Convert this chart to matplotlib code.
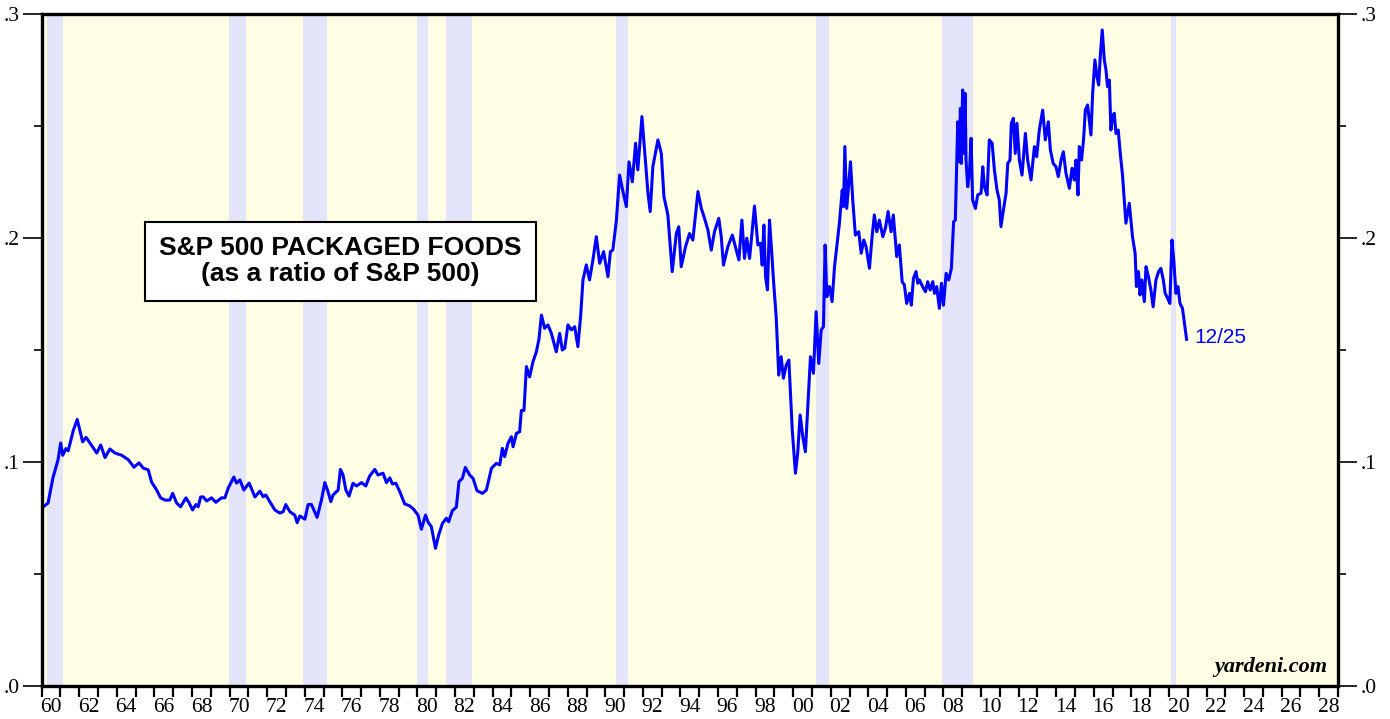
import matplotlib
matplotlib.use("Agg")
import matplotlib.pyplot as plt
from matplotlib.ticker import FixedLocator, NullFormatter, FixedFormatter

# S&P 500 Packaged Foods relative to S&P 500
years = [
    1960.09, 1960.34, 1960.60, 1960.87, 1961.01, 1961.12, 1961.29, 1961.41, 1961.68, 1961.89,
    1962.18, 1962.36, 1962.57, 1962.93, 1963.14, 1963.37, 1963.63, 1963.90, 1964.26, 1964.61,
    1964.91, 1965.18, 1965.40, 1965.67, 1965.85, 1966.12, 1966.33, 1966.56, 1966.82, 1966.97,
    1967.18, 1967.39, 1967.68, 1967.85, 1968.03, 1968.21, 1968.33, 1968.46, 1968.60, 1968.78,
    1969.04, 1969.27, 1969.57, 1969.75, 1969.93, 1970.23, 1970.37, 1970.55, 1970.76, 1971.04,
    1971.35, 1971.61, 1971.79, 1971.93, 1972.14, 1972.41, 1972.68, 1972.85, 1972.99, 1973.21,
    1973.47, 1973.60, 1973.74, 1974.01, 1974.18, 1974.36, 1974.66, 1974.89, 1975.07, 1975.24,
    1975.39, 1975.51, 1975.78, 1975.90, 1976.04, 1976.19, 1976.36, 1976.57, 1976.76, 1977.02,
    1977.25, 1977.46, 1977.73, 1977.90, 1978.17, 1978.35, 1978.53, 1978.67, 1978.85, 1979.06,
    1979.32, 1979.59, 1979.80, 1980.03, 1980.21, 1980.43, 1980.56, 1980.74, 1980.96, 1981.13,
    1981.33, 1981.54, 1981.66, 1981.86, 1982.07, 1982.21, 1982.39, 1982.55, 1982.78, 1982.96,
    1983.17, 1983.46, 1983.67, 1983.94, 1984.20, 1984.38, 1984.52, 1984.64, 1984.82, 1985.00,
    1985.09, 1985.27, 1985.44, 1985.53, 1985.67, 1985.80, 1985.97, 1986.15, 1986.33, 1986.47,
    1986.60, 1986.77, 1986.95, 1987.13, 1987.39, 1987.57, 1987.71, 1987.84, 1988.01, 1988.19,
    1988.37, 1988.54, 1988.69, 1988.81, 1988.99, 1989.16, 1989.34, 1989.52, 1989.70, 1989.91,
    1990.14, 1990.27, 1990.40, 1990.59, 1990.76, 1990.94, 1991.12, 1991.26, 1991.44, 1991.61,
    1991.73, 1991.95, 1992.09, 1992.27, 1992.39, 1992.53, 1992.80, 1992.98, 1993.12, 1993.33,
    1993.56, 1993.78, 1993.91, 1994.04, 1994.27, 1994.48, 1994.66, 1994.93, 1995.11, 1995.28,
    1995.46, 1995.64, 1995.81, 1996.04, 1996.17, 1996.29, 1996.52, 1996.76, 1996.97, 1997.11,
    1997.27, 1997.41, 1997.53, 1997.68, 1997.82, 1997.94, 1998.12, 1998.26, 1998.35, 1998.44,
    1998.53, 1998.63, 1998.74, 1998.86, 1998.95, 1999.10, 1999.23, 1999.36, 1999.48, 1999.63,
    1999.77, 1999.95, 2000.12, 2000.24, 2000.37, 2000.51, 2000.65, 2000.78, 2000.92, 2001.08,
    2001.22, 2001.36, 2001.49, 2001.61, 2001.70, 2001.79, 2001.93, 2002.07, 2002.20, 2002.32,
    2002.46, 2002.61, 2002.68, 2002.75, 2002.85, 2002.96, 2003.05, 2003.17, 2003.31, 2003.49,
    2003.62, 2003.76, 2003.88, 2004.06, 2004.20, 2004.32, 2004.45, 2004.59, 2004.77, 2004.91,
    2005.05, 2005.21, 2005.33, 2005.51, 2005.65, 2005.80, 2005.92, 2006.04, 2006.19, 2006.29,
    2006.40, 2006.54, 2006.63, 2006.72, 2006.89, 2007.04, 2007.16, 2007.29, 2007.43, 2007.52,
    2007.64, 2007.78, 2007.89, 2008.00, 2008.14, 2008.28, 2008.42, 2008.54, 2008.63, 2008.70,
    2008.76, 2008.85, 2008.90, 2008.95, 2009.02, 2009.07, 2009.15, 2009.20, 2009.29, 2009.38,
    2009.47, 2009.55, 2009.70, 2009.82, 2010.00, 2010.09, 2010.18, 2010.32, 2010.44, 2010.59,
    2010.71, 2010.85, 2010.97, 2011.06, 2011.19, 2011.33, 2011.42, 2011.54, 2011.61, 2011.72,
    2011.82, 2011.91, 2012.04, 2012.18, 2012.36, 2012.48, 2012.66, 2012.84, 2012.96, 2013.10,
    2013.28, 2013.42, 2013.58, 2013.69, 2013.84, 2013.99, 2014.11, 2014.26, 2014.38, 2014.52,
    2014.70, 2014.84, 2014.96, 2015.05, 2015.16, 2015.23, 2015.35, 2015.46, 2015.55, 2015.67,
    2015.76, 2015.85, 2015.94, 2016.06, 2016.17, 2016.26, 2016.35, 2016.45, 2016.56, 2016.65,
    2016.73, 2016.83, 2016.91, 2017.00, 2017.09, 2017.18, 2017.30, 2017.41, 2017.53, 2017.71,
    2017.89, 2018.06, 2018.20, 2018.27, 2018.38, 2018.46, 2018.56, 2018.69, 2018.78, 2018.91,
    2019.04, 2019.16, 2019.31, 2019.45, 2019.57, 2019.70, 2019.80, 2019.93, 2020.05, 2020.16,
    2020.27, 2020.37, 2020.48, 2020.59, 2020.72, 2020.94,
]
ratio = [
    0.0800, 0.0817, 0.0930, 0.1010, 0.1085, 0.1030, 0.1060, 0.1050, 0.1140, 0.1190,
    0.1090, 0.1110, 0.1085, 0.1040, 0.1076, 0.1020, 0.1058, 0.1040, 0.1030, 0.1010,
    0.0977, 0.0996, 0.0973, 0.0965, 0.0910, 0.0875, 0.0840, 0.0830, 0.0830, 0.0860,
    0.0817, 0.0800, 0.0840, 0.0817, 0.0786, 0.0810, 0.0800, 0.0844, 0.0844, 0.0826,
    0.0840, 0.0820, 0.0840, 0.0840, 0.0884, 0.0933, 0.0906, 0.0920, 0.0875, 0.0906,
    0.0844, 0.0870, 0.0845, 0.0853, 0.0823, 0.0786, 0.0772, 0.0778, 0.0810, 0.0778,
    0.0763, 0.0729, 0.0759, 0.0745, 0.0810, 0.0810, 0.0753, 0.0830, 0.0908, 0.0868,
    0.0823, 0.0853, 0.0875, 0.0967, 0.0942, 0.0875, 0.0848, 0.0905, 0.0893, 0.0908,
    0.0893, 0.0938, 0.0967, 0.0942, 0.0950, 0.0908, 0.0929, 0.0902, 0.0905, 0.0868,
    0.0813, 0.0804, 0.0789, 0.0763, 0.0700, 0.0763, 0.0733, 0.0711, 0.0615, 0.0674,
    0.0726, 0.0749, 0.0733, 0.0783, 0.0798, 0.0912, 0.0927, 0.0976, 0.0942, 0.0927,
    0.0872, 0.0860, 0.0875, 0.0972, 0.0994, 0.0987, 0.1061, 0.1024, 0.1083, 0.1113,
    0.1068, 0.1128, 0.1135, 0.1230, 0.1230, 0.1426, 0.1380, 0.1448, 0.1492, 0.1550,
    0.1656, 0.1597, 0.1612, 0.1574, 0.1492, 0.1574, 0.1500, 0.1508, 0.1612, 0.1590,
    0.1604, 0.1515, 0.1656, 0.1813, 0.1880, 0.1813, 0.1902, 0.2006, 0.1887, 0.1939,
    0.1827, 0.1939, 0.1946, 0.2080, 0.2281, 0.2207, 0.2140, 0.2340, 0.2251, 0.2423,
    0.2304, 0.2542, 0.2393, 0.2200, 0.2118, 0.2318, 0.2438, 0.2378, 0.2185, 0.2103,
    0.1850, 0.2020, 0.2050, 0.1872, 0.1961, 0.2020, 0.1991, 0.2207, 0.2132, 0.2088,
    0.2036, 0.1946, 0.2028, 0.2088, 0.2006, 0.1879, 0.1961, 0.2013, 0.1946, 0.1902,
    0.2080, 0.1909, 0.1999, 0.1909, 0.2036, 0.2143, 0.1969, 0.1976, 0.1879, 0.2058,
    0.1827, 0.1768, 0.2080, 0.1932, 0.1813, 0.1641, 0.1388, 0.1470, 0.1374, 0.1433,
    0.1455, 0.1143, 0.0950, 0.1039, 0.1210, 0.1113, 0.1046, 0.1247, 0.1470, 0.1396,
    0.1671, 0.1440, 0.1589, 0.1604, 0.1969, 0.1738, 0.1783, 0.1716, 0.1872, 0.1961,
    0.2066, 0.2214, 0.2140, 0.2408, 0.2132, 0.2244, 0.2340, 0.2170, 0.2013, 0.2028,
    0.1932, 0.1991, 0.1961, 0.1865, 0.2006, 0.2103, 0.2028, 0.2080, 0.2006, 0.2044,
    0.2118, 0.2028, 0.2103, 0.1917, 0.1969, 0.1805, 0.1790, 0.1708, 0.1753, 0.1700,
    0.1820, 0.1850, 0.1798, 0.1813, 0.1783, 0.1760, 0.1805, 0.1768, 0.1805, 0.1753,
    0.1783, 0.1686, 0.1798, 0.1700, 0.1842, 0.1813, 0.1865, 0.2073, 0.2080, 0.2318,
    0.2519, 0.2340, 0.2579, 0.2333, 0.2661, 0.2378, 0.2646, 0.2348, 0.2229, 0.2289,
    0.2445, 0.2170, 0.2132, 0.2192, 0.2200, 0.2318, 0.2229, 0.2192, 0.2438, 0.2423,
    0.2304, 0.2214, 0.2170, 0.2051, 0.2125, 0.2200, 0.2333, 0.2348, 0.2512, 0.2534,
    0.2378, 0.2512, 0.2348, 0.2281, 0.2467, 0.2348, 0.2259, 0.2408, 0.2363, 0.2482,
    0.2571, 0.2438, 0.2519, 0.2393, 0.2333, 0.2318, 0.2274, 0.2348, 0.2385, 0.2289,
    0.2222, 0.2311, 0.2259, 0.2348, 0.2192, 0.2408, 0.2348, 0.2445, 0.2571, 0.2594,
    0.2527, 0.2460, 0.2646, 0.2795, 0.2720, 0.2683, 0.2817, 0.2929, 0.2795, 0.2750,
    0.2676, 0.2705, 0.2482, 0.2542, 0.2557, 0.2467, 0.2482, 0.2378, 0.2280, 0.2066,
    0.2155, 0.2006, 0.1932, 0.1783, 0.1850, 0.1746, 0.1813, 0.1716, 0.1872, 0.1827,
    0.1768, 0.1693, 0.1813, 0.1850, 0.1865, 0.1813, 0.1753, 0.1731, 0.1708, 0.1991,
    0.1887, 0.1753, 0.1783, 0.1708, 0.1686, 0.1548,
]

# recession periods (start, end)
rec_start = [1960.30, 1969.95, 1973.90, 1980.00, 1981.53, 1990.58, 2001.20, 2007.92, 2020.10]
rec_end = [1961.12, 1970.90, 1975.20, 1980.55, 1982.92, 1991.22, 2001.90, 2009.55, 2020.38]

year_labels = [f"{y % 100:02d}" for y in range(1960, 2029, 2)]
y_labels = [".0", ".1", ".2", ".3"]

fig = plt.figure(figsize=(13.9, 7.19), dpi=100)
ax = fig.add_axes([0.030, 0.0459, 0.9326, 0.9346])
ax.set_facecolor("#FEFEE4")

for s, e in zip(rec_start, rec_end):
    ax.axvspan(s, e, color="#E4E4FA", lw=0, zorder=1)

ax.plot(years, ratio, color="#0000FF", lw=2.2, zorder=3)
ax.text(years[-1] + 0.4, ratio[-1] + 0.001, "12/25", color="#0000FF", fontsize=15,
        family="Liberation Sans", ha="left", va="center")

ax.text(1975.9, 0.1897, "S&P 500 PACKAGED FOODS\n(as a ratio of S&P 500)",
        fontsize=19, fontweight="bold", family="Liberation Sans", ha="center", va="center",
        linespacing=1.1,
        bbox=dict(boxstyle="square,pad=0.55", fc="white", ec="black", lw=1.5))

ax.text(2028.4, 0.004, "yardeni.com", fontsize=16, fontweight="bold", style="italic",
        family="Liberation Serif", ha="right", va="bottom")

ax.set_xlim(1960, 2029)
ax.set_ylim(0, 0.3)

# x axis: tick every year, labels centred between ticks
ax.xaxis.set_major_locator(FixedLocator(list(range(1960, 2030))))
ax.xaxis.set_major_formatter(NullFormatter())
ax.xaxis.set_minor_locator(FixedLocator([y + 0.5 for y in range(1960, 2029, 2)]))
ax.xaxis.set_minor_formatter(FixedFormatter(year_labels))
ax.tick_params(axis="x", which="major", direction="out", length=8, width=1.6, top=False)
ax.tick_params(axis="x", which="minor", length=0, labelsize=15.5, pad=9)

# y axis on both sides
ax.yaxis.set_major_locator(FixedLocator([0, 0.1, 0.2, 0.3]))
ax.yaxis.set_major_formatter(FixedFormatter(y_labels))
ax.yaxis.set_minor_locator(FixedLocator([0.05, 0.15, 0.25]))
ax.tick_params(axis="y", which="major", direction="out", length=14, width=1.2,
               left=True, right=True, labelleft=True, labelright=True, labelsize=15.5, pad=2)
ax.tick_params(axis="y", which="minor", direction="out", length=6, width=1.2,
               left=True, right=True)

for lbl in ax.get_xticklabels(minor=True) + ax.get_yticklabels():
    lbl.set_family("Liberation Serif")

for sp in ax.spines.values():
    sp.set_linewidth(2.4)
    sp.set_zorder(5)

fig.savefig("out.png", dpi=100)
